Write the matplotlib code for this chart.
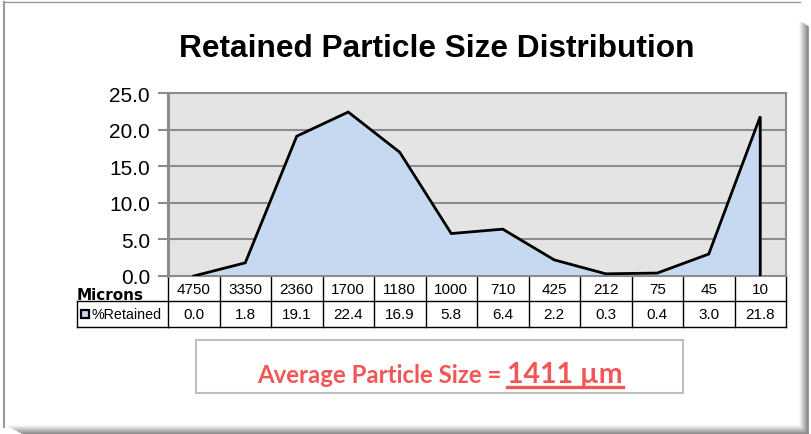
import numpy as np
import matplotlib.pyplot as plt
import matplotlib.transforms as mtransforms
from matplotlib.patches import Rectangle
from matplotlib.lines import Line2D

# Datos
microns = ['4750', '3350', '2360', '1700', '1180', '1000', '710', '425', '212', '75', '45', '10']
retained = [0.0, 1.8, 19.1, 22.4, 16.9, 5.8, 6.4, 2.2, 0.3, 0.4, 3.0, 21.8]
yticks = [0, 5, 10, 15, 20, 25]
avg_size = 1411

W, H = 811, 435
fig = plt.figure(figsize=(W / 100, H / 100), dpi=100)
fig.patch.set_facecolor('white')


def fx(x):
    return x / W


def fy(y):
    return 1 - y / H


# marco exterior con sombra
fig.add_artist(Line2D([fx(4), fx(4)], [fy(3), fy(428)], color='#9a9a9a', lw=1.5))
fig.add_artist(Line2D([fx(4), fx(800)], [fy(3), fy(3)], color='#9a9a9a', lw=1.0))
for i in range(9):
    g = 0.97 - i * 0.055
    fig.add_artist(Line2D([fx(800 + i), fx(800 + i)], [fy(3 + i * 0.6 + 20), fy(427 + i)],
                          color=(g, g, g), lw=1.2))
    fig.add_artist(Line2D([fx(8 + i * 2), fx(800 + i)], [fy(427 + i), fy(427 + i)],
                          color=(g, g, g), lw=1.2))

# ejes del grafico
ax = fig.add_axes([fx(168), fy(277), fx(786) - fx(168), fy(94) - fy(277)])
ax.set_facecolor('#e4e4e4')
x = np.arange(len(retained))
ax.fill_between(x, retained, 0, color='#c6d9f1', zorder=2)
ax.plot(list(x) + [x[-1]], retained + [0], color='black', lw=2.0, zorder=3,
        solid_joinstyle='miter')
ax.set_xlim(-0.5, len(retained) - 0.5)
ax.set_ylim(0, 25)
ax.set_yticks(yticks)
ax.set_yticklabels([f'{v:.1f}' for v in yticks], fontsize=15, family='Liberation Sans')
ax.set_xticks([])
ax.grid(axis='y', color='#8c8c8c', lw=1.5, zorder=1)
ax.set_axisbelow(True)
ax.tick_params(axis='y', length=7, width=1.5, color='#8c8c8c', pad=6)
for s in ['top', 'right', 'bottom']:
    ax.spines[s].set_color('#8c8c8c')
    ax.spines[s].set_linewidth(1.5)
ax.spines['left'].set_color('#8c8c8c')
ax.spines['left'].set_linewidth(2.2)

# titulo
fig.text(fx(437), fy(49), 'Retained Particle Size Distribution', ha='center', va='center',
         fontsize=22.8, fontweight='bold', family='Liberation Sans')

# tabla de datos
tr = mtransforms.blended_transform_factory(ax.transData, fig.transFigure)
r0, r1, r2 = fy(277), fy(302), fy(328)
xl = -0.5
xr = len(retained) - 0.5
for k in range(len(retained) + 1):
    ax.plot([k - 0.5, k - 0.5], [r0, r2], transform=tr, color='black', lw=1.0, clip_on=False)
ax.plot([xl, xr], [r1, r1], transform=tr, color='black', lw=1.0, clip_on=False)
ax.plot([xl, xr], [r2, r2], transform=tr, color='black', lw=1.0, clip_on=False)
fig.add_artist(Line2D([fx(77), fx(168)], [r1, r1], color='black', lw=1.0))
fig.add_artist(Line2D([fx(77), fx(168)], [r2, r2], color='black', lw=1.0))
fig.add_artist(Line2D([fx(77), fx(77)], [r1, r2], color='black', lw=1.0))

narrow = 'Liberation Sans'
for i, (m, v) in enumerate(zip(microns, retained)):
    ax.text(i, (r0 + r1) / 2, m, transform=tr, ha='center', va='center', fontsize=11,
            family=narrow, clip_on=False)
    ax.text(i, (r1 + r2) / 2, f'{v:.1f}', transform=tr, ha='center', va='center', fontsize=11,
            family=narrow, clip_on=False)

fig.text(fx(77), fy(295.5), 'Microns', ha='left', va='center', fontsize=11,
         fontweight='heavy', family='DejaVu Sans')
fig.add_artist(Rectangle((fx(81), fy(319)), fx(8), fy(311) - fy(319),
                         facecolor='#c6d9f1', edgecolor='black', lw=1.6))
fig.text(fx(91), (r1 + r2) / 2, '%Retained', ha='left', va='center', fontsize=10.3,
         family=narrow)

# cuadro de tamano promedio
fig.add_artist(Rectangle((fx(196), fy(394)), fx(683) - fx(196), fy(341) - fy(394),
                         facecolor='white', edgecolor='#bfbfbf', lw=1.5))
red = '#f25757'
base_y = fy(383)
t1 = fig.text(0, base_y, 'Average Particle Size = ', ha='left', va='baseline', fontsize=17.3,
              fontweight='bold', family='Lato', color=red)
t2 = fig.text(0, base_y, f'{avg_size} µm', ha='left', va='baseline', fontsize=20.5,
              fontweight='bold', family='Lato', color=red)
fig.canvas.draw()
r = fig.canvas.get_renderer()
w1 = t1.get_window_extent(r).width
w2 = t2.get_window_extent(r).width
x0 = 440 - (w1 + w2) / 2
t1.set_x(fx(x0))
t2.set_x(fx(x0 + w1))
fig.add_artist(Line2D([fx(x0 + w1), fx(x0 + w1 + w2)], [fy(388), fy(388)], color=red, lw=2.4))

fig.savefig('out.png', dpi=100)
